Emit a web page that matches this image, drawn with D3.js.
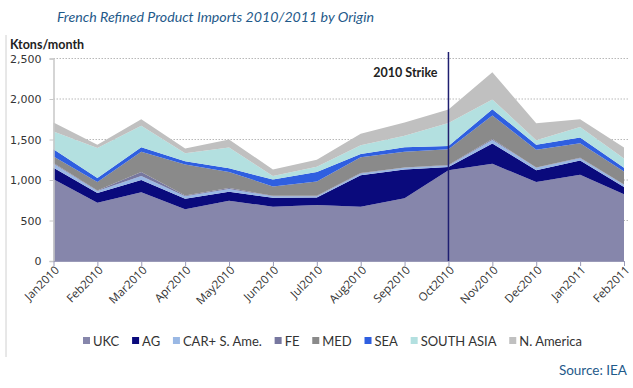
<!DOCTYPE html>
<html>
<head>
<meta charset="utf-8">
<script src="https://cdn.jsdelivr.net/npm/d3@7"></script>
<style>
html,body{margin:0;padding:0;background:#fff;}
svg{display:block;}
</style>
</head>
<body>
<svg id="chart" width="633" height="388"></svg>
<script>
const months = ["Jan2010","Feb2010","Mar2010","Apr2010","May2010","Jun2010","Jul2010","Aug2010","Sep2010","Oct2010","Nov2010","Dec2010","Jan2011","Feb2011"];
const seriesNames = ["UKC","AG","CAR+ S. Ame.","FE","MED","SEA","SOUTH ASIA","N. America"];
const UKC   = [1010, 720, 850, 640, 745, 670, 690, 670, 775, 1120, 1200, 975, 1065, 825];
const AG    = [140, 120, 150, 130, 110, 110, 95, 390, 355, 40, 250, 145, 175, 90];
const CAR   = [50, 25, 50, 30, 35, 20, 15, 20, 20, 20, 45, 30, 30, 25];
const FE    = [10, 5, 50, 10, 10, 5, 5, 5, 5, 5, 10, 5, 5, 5];
const MED   = [80, 105, 250, 380, 200, 115, 175, 195, 195, 195, 290, 220, 180, 160];
const SEA   = [90, 50, 55, 40, 45, 85, 120, 40, 55, 40, 80, 60, 70, 45];
const SASIA = [220, 370, 265, 100, 255, 45, 65, 110, 140, 285, 120, 55, 130, 115];
const NAM   = [110, 40, 80, 60, 100, 80, 85, 140, 165, 165, 335, 210, 95, 135];
const yTicks = [0, 500, 1000, 1500, 2000, 2500];
const strikeMonth = "Oct2010";

const colors = ["#8686ab","#0a0a7c","#9ab8e4","#77779f","#8a8a8a","#2f5fe0","#b3e0e0","#c0c0c0"];
const seriesValues = [UKC, AG, CAR, FE, MED, SEA, SASIA, NAM];

const table = months.map((m, i) => {
  const row = {month: m};
  seriesNames.forEach((s, k) => row[s] = seriesValues[k][i]);
  return row;
});

const svg = d3.select("#chart");
const x = d3.scalePoint().domain(months).range([53.5, 624]);
const y = d3.scaleLinear().domain([0, 2500]).range([261, 58.5]);

// left border line
svg.append("line").attr("x1",6).attr("x2",6).attr("y1",35).attr("y2",357)
  .attr("stroke","#d0d0d0").attr("stroke-width",1);

// title
svg.append("text").attr("x",57).attr("y",22)
  .attr("font-family","Lato, 'Open Sans', sans-serif").attr("font-style","italic")
  .attr("font-size",14.2).attr("fill","#1f5a8a")
  .text("French Refined Product Imports 2010/2011 by Origin");

svg.append("text").attr("x",10).attr("y",49)
  .attr("font-family","Lato, 'Open Sans', sans-serif").attr("font-weight","bold")
  .attr("font-size",12.5).attr("fill","#222").text("Ktons/month");

// gridlines
svg.append("g").selectAll("line").data(yTicks.filter(t => t > 0)).join("line")
  .attr("x1",53.5).attr("x2",628).attr("y1",d=>y(d)).attr("y2",d=>y(d))
  .attr("stroke","#b8b8b8").attr("stroke-dasharray","1.5,1.5").attr("stroke-width",1);

// stacked areas
const stack = d3.stack().keys(seriesNames);
const layers = stack(table);
const area = d3.area().x(d => x(d.data.month)).y0(d => y(d[0])).y1(d => y(d[1]));
svg.append("g").selectAll("path").data(layers).join("path")
  .attr("d", area).attr("fill", (d,i) => colors[i]);

// y axis
const yAxis = d3.axisLeft(y).tickValues(yTicks).tickFormat(d3.format(",")).tickSize(4).tickPadding(8);
const gy = svg.append("g").attr("transform","translate(53.5,0)").call(yAxis);
gy.select(".domain").attr("stroke","#c8c8c8").attr("stroke-width",1.5);
gy.selectAll(".tick line").attr("stroke","#c8c8c8");
gy.selectAll("text").attr("font-family","'DejaVu Sans', Verdana, sans-serif").attr("font-size",11).attr("fill","#333");

// x axis
const xAxis = d3.axisBottom(x).tickSize(5).tickSizeOuter(0);
const gx = svg.append("g").attr("transform","translate(0,261)").call(xAxis);
gx.select(".domain").attr("stroke","#9a9ab8").attr("stroke-width",1);
gx.selectAll(".tick line").attr("stroke","#9a9ab8");
gx.selectAll("text").attr("font-family","'Open Sans', sans-serif").attr("font-size",11.5).attr("fill","#333")
  .attr("text-anchor","end").attr("x",0).attr("y",0).attr("dy","0.35em")
  .attr("transform","translate(3,7) rotate(-45)");

// strike line
svg.append("line").attr("x1",x(strikeMonth)).attr("x2",x(strikeMonth)).attr("y1",52).attr("y2",261)
  .attr("stroke","#1e1e70").attr("stroke-width",1.5);
svg.append("text").attr("x",x(strikeMonth)-11).attr("y",77).attr("text-anchor","end")
  .attr("font-family","Lato, 'Open Sans', sans-serif").attr("font-weight","bold")
  .attr("font-size",12.5).attr("fill","#222").text("2010 Strike");

// legend: sequential layout spanning reference extent
const legStart = 83, legEnd = 582, sw = 7, gapTxt = 3;
const lg = svg.append("g").selectAll("g").data(seriesNames).join("g");
lg.append("rect").attr("x",0).attr("y",-4).attr("width",sw).attr("height",sw).attr("fill",(d,i)=>colors[i]);
const lt = lg.append("text").attr("x",sw+gapTxt).attr("y",0).attr("dy","0.35em")
  .attr("font-family","Lato, 'Open Sans', sans-serif").attr("font-size",13).attr("fill","#333").text(d=>d);
const widths = lt.nodes().map(n => n.getComputedTextLength() + sw + gapTxt);
const totalW = d3.sum(widths);
const spacing = (legEnd - legStart - totalW) / (seriesNames.length - 1);
let cx = legStart;
const offs = widths.map(w => { const o = cx; cx += w + spacing; return o; });
lg.attr("transform",(d,i)=>`translate(${offs[i]},341)`);

svg.append("text").attr("x",627).attr("y",375).attr("text-anchor","end")
  .attr("font-family","Lato, 'Open Sans', sans-serif").attr("font-size",13.5).attr("fill","#1f5a8a")
  .text("Source: IEA");
</script>
</body>
</html>
